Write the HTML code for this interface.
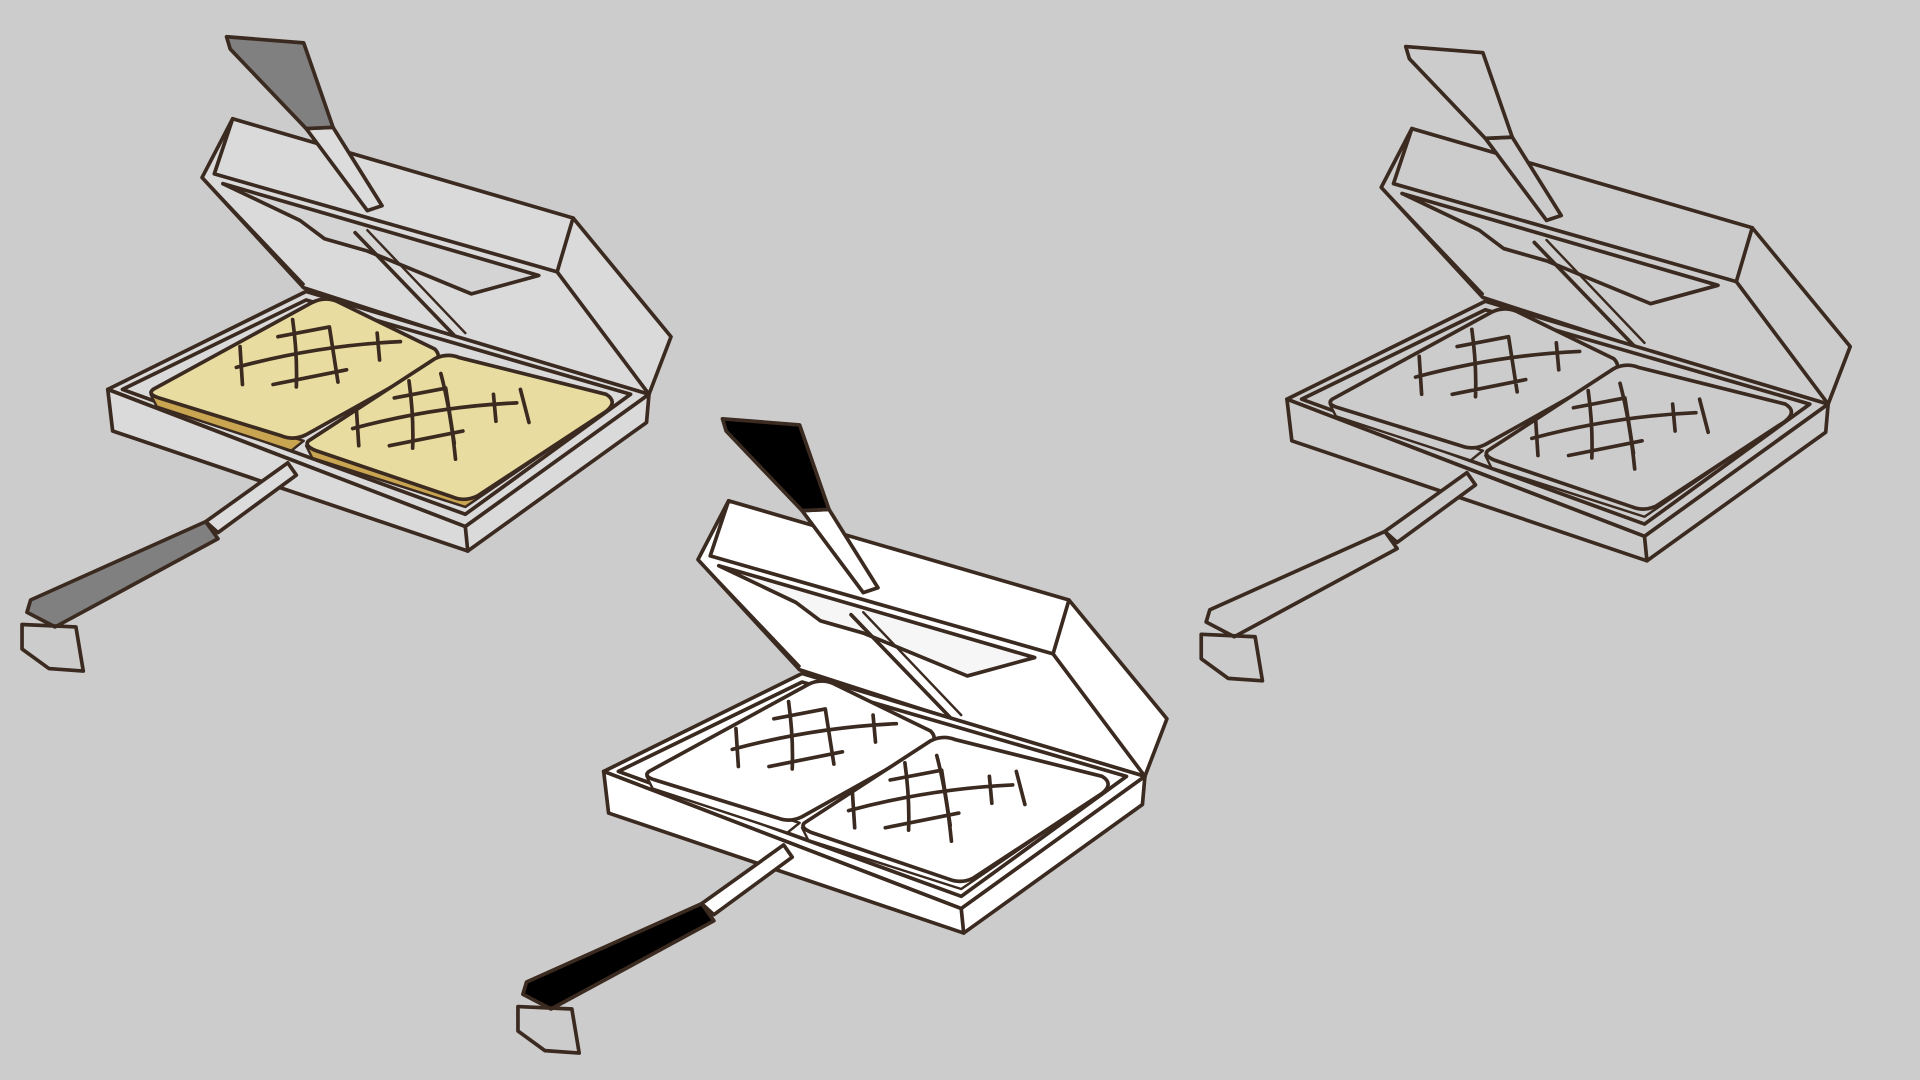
<!DOCTYPE html>
<html><head><meta charset="utf-8"><style>
html,body{margin:0;padding:0;background:#cccccc;width:1920px;height:1080px;overflow:hidden}
svg{display:block}
</style></head><body>
<svg width="1920" height="1080" viewBox="0 0 1568 882" xmlns="http://www.w3.org/2000/svg">
<defs>
<g id="tmark" fill="none" stroke-width="3">
  <path d="M193,300 Q260,282 327,279 M223,314 L283,302 M239,261 Q243,290 242,316 M269,267 L276,312 M227,275 L269,267 M196,283 L198,314 M308,272 L310,294"/>
</g>
<g id="pan" stroke="#3b2a20" stroke-width="3" stroke-linejoin="round" stroke-linecap="round">
  <!-- lid -->
  <polygon style="fill:var(--body)" points="165,145 190,97 468,178 548,275 530,322 372,275 248,235"/>
  <polyline fill="none" points="190,97 175,142 455,222 530,322"/>
  <polyline fill="none" points="468,178 455,222"/>
  <polyline fill="none" stroke-width="2" points="172,152 248,232"/>
  <polygon style="fill:var(--inner)" points="182,150 440,225 385,240 300,205 265,195 245,180"/>
  <polyline fill="none" points="290,190 372,275"/>
  <polyline fill="none" stroke-width="2" points="300,188 380,272"/>
  <!-- base -->
  <polygon style="fill:var(--body)" points="88,318 250,238 530,322 380,430"/>
  <polygon style="fill:var(--body)" points="88,318 380,430 530,322 528,345 382,450 92,352"/>
  <polyline fill="none" points="380,430 382,450"/>
  <polygon style="fill:var(--body)" points="100,318 250,245 515,322 380,420"/>
  <!-- toasts: edge -->
  <path style="fill:var(--edge)" stroke-width="2" d="M123,322 L128,332 L238,368 L248,360Z"/>
  <path style="fill:var(--edge)" stroke-width="2" d="M250,364 L255,374 L380,414 L500,332 L497,325 L385,402Z"/>
  <path style="fill:var(--toast)" d="M125,318 L255,247 Q265,242 275,246 L355,285 Q362,292 352,298 L250,355 Q240,360 230,356 L130,325 Q120,322 125,318Z"/>
  <path style="fill:var(--toast)" d="M252,360 L355,293 Q365,288 375,292 L495,322 Q505,328 495,336 L390,405 Q380,410 370,406 L258,368 Q248,364 252,360Z"/>
  <use href="#tmark"/>
  <use href="#tmark" transform="translate(95,50)"/>
  <path fill="none" stroke-width="3" d="M360,305 Q368,335 372,375 M425,318 L432,345"/>
  <!-- bottom handle -->
  <polygon style="fill:var(--rod)" points="235,378 242,388 178,435 168,426"/>
  <polygon style="fill:var(--grip)" points="168,426 178,440 45,512 22,500 25,490"/>
  <polygon fill="none" points="18,510 62,512 68,548 40,546 18,530"/>
  <!-- top handle -->
  <polygon style="fill:var(--rod)" points="250,105 272,104 312,168 300,172"/>
  <polygon style="fill:var(--grip)" points="185,30 248,35 272,104 250,105 188,40"/>
</g>
</defs>
<rect width="1568" height="882" fill="#cccccc"/>
<use href="#pan" style="--body:#dadada;--inner:#d4d4d4;--toast:#e8dca0;--edge:#c9a552;--grip:#808080;--rod:#dcdcdc"/>
<use href="#pan" style="--body:#ffffff;--inner:#f6f6f6;--toast:#ffffff;--edge:#ffffff;--grip:#000000;--rod:#ffffff" transform="translate(405,312)"/>
<use href="#pan" style="--body:#cccccc;--inner:#cccccc;--toast:#cccccc;--edge:#cccccc;--grip:#cccccc;--rod:#cccccc" transform="translate(963,8)"/>
</svg>
</body></html>
